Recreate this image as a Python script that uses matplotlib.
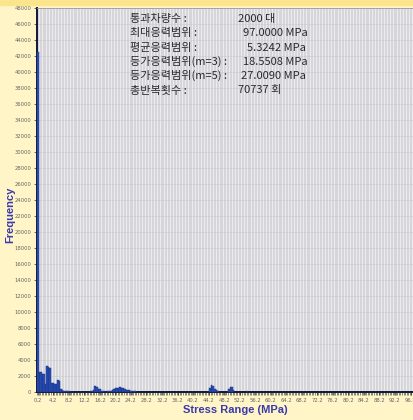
import numpy as np
import matplotlib
matplotlib.use("Agg")
import matplotlib.pyplot as plt
from matplotlib.ticker import MultipleLocator, FixedLocator

# ---- data ----
bar_stress = [0.2, 0.6, 1.0, 1.4, 1.8, 2.2, 2.6, 3.0, 3.4, 3.8, 4.2, 4.6, 5.0, 5.4, 5.8,
              6.2, 6.6, 7.0, 7.4, 7.8, 8.2, 8.6, 9.0, 9.4, 9.8, 10.2, 10.6, 11.0, 11.4,
              11.8, 12.2, 12.6, 13.0, 13.4, 13.8, 14.2, 14.6, 15.0, 15.4, 15.8, 16.2,
              16.6, 17.0, 17.4, 17.8, 18.2, 18.6, 19.0, 19.4, 19.8, 20.2, 20.6, 21.0,
              21.4, 21.8, 22.2, 22.6, 23.0, 23.4, 23.8, 24.2, 24.6, 25.0, 25.4, 25.8,
              44.6, 45.0, 45.4, 45.8, 46.2, 46.6, 49.4, 49.8, 50.2, 50.6, 54.2]
bar_freq = [42500, 2540, 2540, 2250, 2250, 1000, 3250, 3150, 3000, 1170, 1170, 1000, 1000,
            1500, 1400, 375, 300, 90, 80, 70, 80, 60, 60, 50, 60, 50, 60, 50, 40,
            50, 40, 60, 50, 60, 80, 120, 300, 700, 650, 400, 350,
            150, 90, 80, 60, 70, 90, 120, 200, 350, 460, 500, 560,
            580, 520, 450, 400, 300, 250, 200, 150, 120, 100, 80, 60,
            500, 875, 800, 400, 300, 150, 400, 670, 600, 250, 100]

x_ticks = [0.2 + 4 * i for i in range(25)]
x_tick_labels = ["%.1f" % v for v in x_ticks]
y_ticks = list(range(0, 48001, 2000))

info_labels = ["통과차량수 :", "최대응력범위 :", "평균응력범위 :",
               "등가응력범위(m=3) :", "등가응력범위(m=5) :", "총반복횟수 :"]
info_values = ["2000 대", "97.0000 MPa", "5.3242 MPa",
               "18.5508 MPa", "27.0090 MPa", "70737 회"]

# ---- figure ----
W, H = 414, 420
fig = plt.figure(figsize=(W / 100, H / 100), dpi=100, facecolor="#FFF5C6")
fig.patches.append(plt.Rectangle((0, 1 - 5 / H), 1, 5 / H, transform=fig.transFigure,
                                 color="#FBE58C", zorder=0))

ax = fig.add_axes([37 / W, (H - 392) / H, (W - 37) / W, (392 - 8) / H])
ax.set_facecolor("#D6D6DA")

# vertical light stripes + faint horizontal grid
for xv in np.arange(0.6, 97.2, 0.8):
    ax.axvline(xv, color="#EDEDF0", lw=0.7, zorder=0.5)
ax.set_yticks(y_ticks)
ax.yaxis.grid(True, color="#CACACE", lw=0.4, zorder=0.6)
ax.set_axisbelow(True)

ax.bar(bar_stress, bar_freq, width=0.4, color="#2C4FB8", edgecolor="#14307F",
       linewidth=0.3, zorder=3, clip_on=False)

ax.set_xlim(0.0, 97.1)
ax.set_ylim(0, 48000)
ax.xaxis.set_major_locator(FixedLocator(x_ticks))
ax.set_xticklabels(x_tick_labels)
ax.xaxis.set_minor_locator(MultipleLocator(0.4))
ax.tick_params(axis="x", which="major", labelsize=3.8, length=2.5, width=0.5,
               colors="#333333", labelcolor="#666666", pad=1.5)
ax.tick_params(axis="x", which="minor", length=2, width=0.4, colors="#333333")
ax.tick_params(axis="y", labelsize=3.8, length=2.5, width=0.5,
               colors="#333333", labelcolor="#666666", pad=1.5)

for s in ("left", "bottom"):
    ax.spines[s].set_color("#10163A")
    ax.spines[s].set_linewidth(1.4)
    ax.spines[s].set_zorder(2)
ax.spines["top"].set_color("#9A9AA0")
ax.spines["top"].set_linewidth(0.6)
ax.spines["right"].set_visible(False)

lab_font = dict(family=["Liberation Sans", "DejaVu Sans"], fontweight="bold",
                color="#3A3AAE", fontsize=8)
fig.text(235 / W, 1 - 410 / H, "Stress Range (MPa)", ha="center", va="center", **lab_font)
fig.text(10 / W, 1 - 215 / H, "Frequency", ha="center", va="center", rotation=90, **lab_font)

# info text block
kfont = dict(family=["Noto Sans CJK KR", "DejaVu Sans"], fontsize=8.0, color="#2A2A2A")
value_x = [238, 243, 247, 243, 241, 238]
for i, (lab, val) in enumerate(zip(info_labels, info_values)):
    y = 1 - (22 + 14.3 * i) / H
    fig.text(130 / W, y, lab, ha="left", va="baseline", **kfont)
    fig.text(value_x[i] / W, y, val, ha="left", va="baseline", **kfont)

fig.savefig("out.png", dpi=100, facecolor=fig.get_facecolor())
